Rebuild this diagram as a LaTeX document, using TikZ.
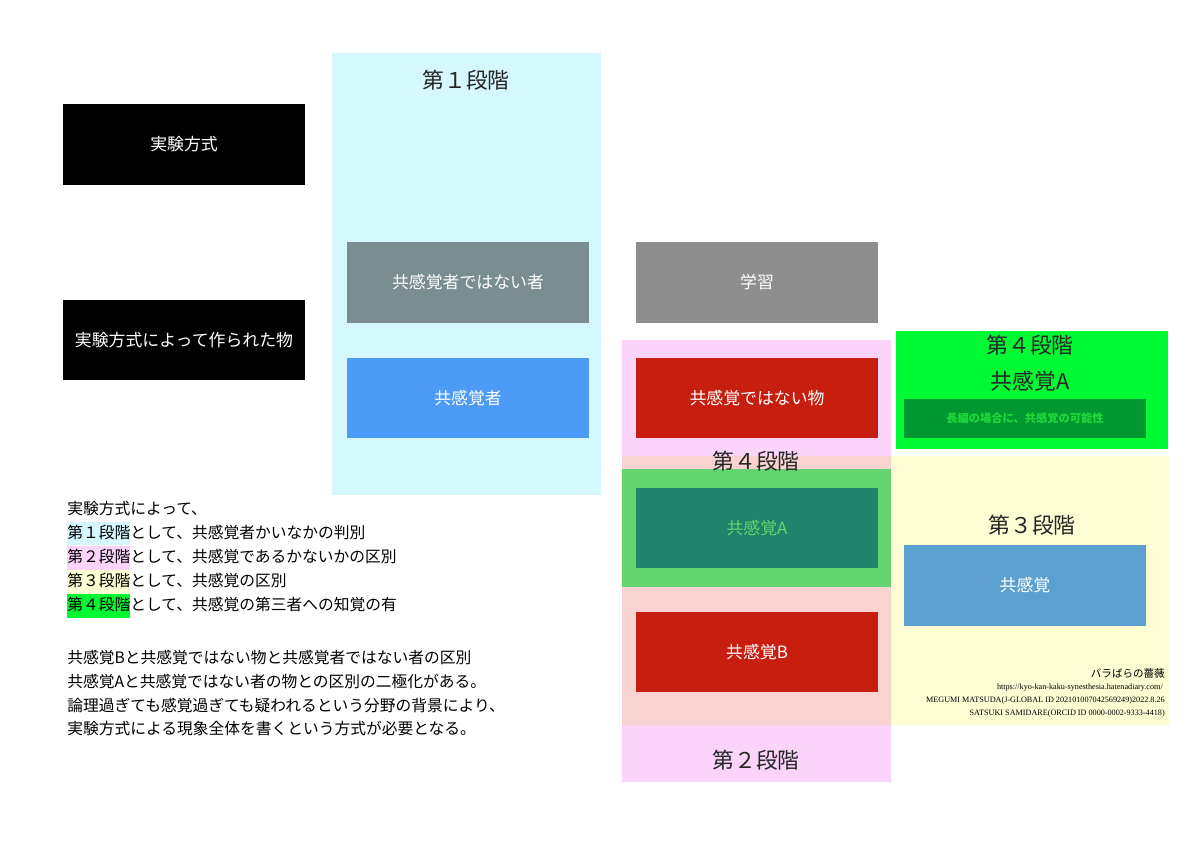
\documentclass[tikz,border=0pt]{standalone}
\usepackage{fontspec}
\setmainfont{Noto Sans CJK JP}
\newfontfamily\latinserif{Liberation Serif}
\usetikzlibrary{positioning}
\definecolor{stageone}{HTML}{D5F8FC}
\definecolor{stagetwo}{HTML}{FBD3FB}
\definecolor{stagetwob}{HTML}{F9D3D2}
\definecolor{stagefourband}{HTML}{63D46E}
\definecolor{stagethree}{HTML}{FCFDD3}
\definecolor{stagefour}{HTML}{00F933}
\definecolor{grayteal}{HTML}{7A8D91}
\definecolor{plaingray}{HTML}{8E8E8E}
\definecolor{skyblue}{HTML}{4C9BF6}
\definecolor{darkred}{HTML}{C81E10}
\definecolor{tealgreen}{HTML}{22826C}
\definecolor{steelblue}{HTML}{5CA0D0}
\definecolor{forestgreen}{HTML}{00992F}
\definecolor{lightgreentext}{HTML}{20D83C}
\newcommand{\hlbox}[2]{{\setlength{\fboxsep}{0pt}\colorbox{#1}{\rule[-5pt]{0pt}{16.5pt}#2}}}

\begin{document}
\begin{tikzpicture}[x=0.025cm, y=-0.025cm,
		blockbox/.style={minimum width=6.05cm, minimum height=2.02cm, inner sep=0pt, text=white, font=\fontsize{12}{14}\selectfont},
		stagelabel/.style={inner sep=0pt, text=black!85, font=\fontsize{15.5}{18}\selectfont},
		notetext/.style={anchor=west, inner sep=0pt, font=\fontsize{11.2}{13}\selectfont},
		creditline/.style={anchor=east, inner sep=0pt, font=\latinserif\fontsize{5.8}{6.5}\selectfont}]
			%%%%% START %%%%%
			
			\useasboundingbox[fill=white] (0, 0) rectangle (1200, 848);
			
			% stage areas
			\fill[stageone] (332, 53) rectangle (601, 495);
			\fill[stagetwo] (622, 340) rectangle (891, 782);
			\fill[stagetwob] (622, 456) rectangle (891, 725);
			\fill[stagefourband] (622, 469) rectangle (891, 587);
			\fill[stagethree] (891, 456) rectangle (1169, 725);
			\fill[stagefour] (896, 331) rectangle (1168, 449);
			
			% boxes
			\node[blockbox, fill=black] (method) at (184, 144.5) {実験方式};
			\node[blockbox, fill=black] (product) at (184, 340) {実験方式によって作られた物};
			
			\node[blockbox, fill=grayteal] (nonsynperson) at (468, 282.5) {共感覚者ではない者};
			\node[blockbox, fill=skyblue] (synperson) at (468, 398) {共感覚者};
			
			\node[blockbox, fill=plaingray] (learning) at (757, 282.5) {学習};
			\node[blockbox, fill=darkred] (nonsynthing) at (757, 398) {共感覚ではない物};
			\node[blockbox, fill=tealgreen, text=stagefourband] (synA) at (757, 528) {共感覚A};
			\node[blockbox, fill=darkred] (synB) at (757, 652) {共感覚B};
			
			\node[blockbox, fill=steelblue] (syn) at (1025, 585.5) {共感覚};
			\node[blockbox, minimum height=0.975cm, fill=forestgreen, text=lightgreentext, font=\bfseries\fontsize{8}{9}\selectfont] (novel) at (1025, 418.5) {長編の場合に、共感覚の可能性};
			
			% stage labels
			\node[stagelabel] (stageonelabel) at (466, 80) {第１段階};
			\node[stagelabel] (stagefourmid) at (756, 461) {第４段階};
			\node[stagelabel] (stagetwolabel) at (756, 760) {第２段階};
			\node[stagelabel] (stagethreelabel) at (1032, 525) {第３段階};
			\node[stagelabel] (stagefourlabel) at (1030, 345) {第４段階};
			\node[stagelabel] (stagefoursyn) at (1030, 381) {共感覚A};
			
			% notes
			\node[notetext] (noteone) at (67, 509) {実験方式によって、};
			\node[notetext] (notetwo) at (67, 533.5) {\hlbox{stageone}{第１段階}として、共感覚者かいなかの判別};
			\node[notetext] (notethree) at (67, 558) {\hlbox{stagetwo}{第２段階}として、共感覚であるかないかの区別};
			\node[notetext] (notefour) at (67, 582) {\hlbox{stagethree}{第３段階}として、共感覚の区別};
			\node[notetext] (notefive) at (67, 606) {\hlbox{stagefour}{第４段階}として、共感覚の第三者への知覚の有};
			
			\node[notetext] (notesix) at (67, 657) {共感覚Bと共感覚ではない物と共感覚者ではない者の区別};
			\node[notetext] (noteseven) at (67, 681) {共感覚Aと共感覚ではない者の物との区別の二極化がある。};
			\node[notetext] (noteeight) at (67, 705) {論理過ぎても感覚過ぎても疑われるという分野の背景により、};
			\node[notetext] (notenine) at (67, 729) {実験方式による現象全体を書くという方式が必要となる。};
			
			% credits
			\node[creditline, font=\fontsize{7.5}{8}\selectfont] (roses) at (1165, 674) {バラばらの薔薇};
			\node[creditline] (url) at (1163, 688) {https://kyo-kan-kaku-synesthesia.hatenadiary.com/};
			\node[creditline] (megumi) at (1165, 701) {MEGUMI MATSUDA(J-GLOBAL ID 202101007042569249)2022.8.26};
			\node[creditline] (satsuki) at (1165, 714) {SATSUKI SAMIDARE(ORCID ID 0000-0002-9333-4418)};
			
			%%%%% END %%%%%
		\end{tikzpicture}
\end{document}
